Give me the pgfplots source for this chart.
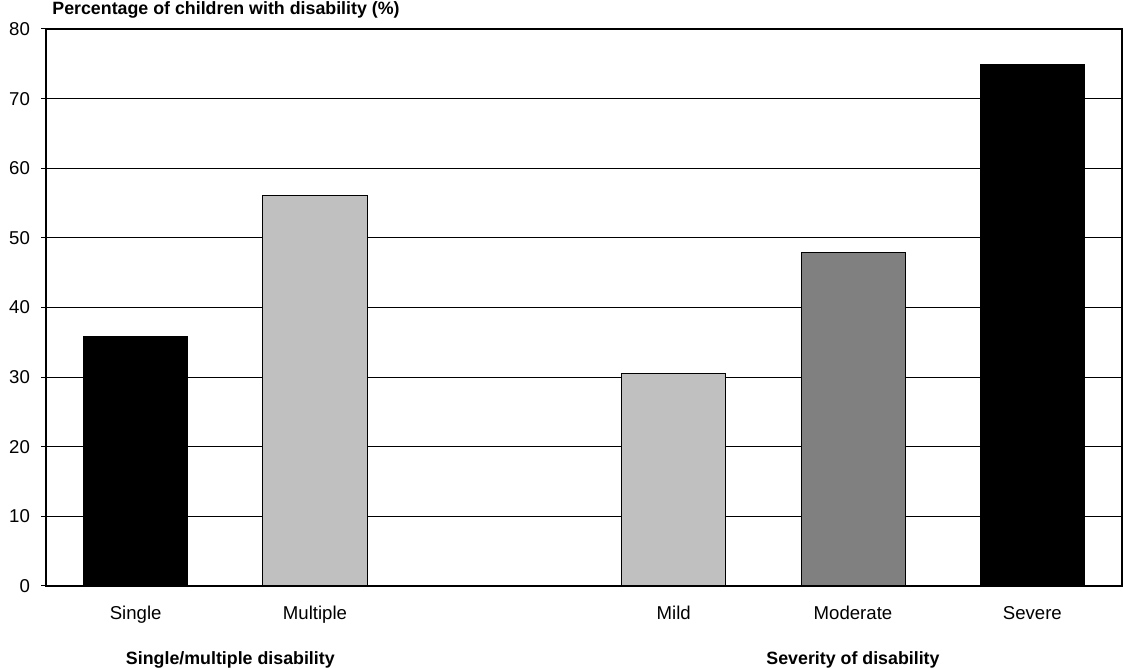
\documentclass[border=0pt]{standalone}
\usepackage{pgfplots}
\pgfplotsset{compat=1.18}
\usepackage{fontspec}
\setmainfont{Liberation Sans}
\definecolor{silverbar}{HTML}{C0C0C0}
\definecolor{graybar}{HTML}{808080}
\begin{document}
\begin{tikzpicture}
\begin{axis}[
  scale only axis,
  width=538pt, height=278.5pt,
  xmin=-0.5, xmax=5.5,
  ymin=0, ymax=80,
  ytick={0,10,...,80},
  xtick={0,1,3,4,5},
  xticklabels={Single,Multiple,Mild,Moderate,Severe},
  x tick style={draw=none},
  y tick style={black, line width=0.5pt},
  ytick pos=left,
  tick align=outside,
  major tick length=2.5pt,
  ymajorgrids,
  grid style={black, line width=0.5pt},
  axis line style={black, line width=0.6pt},
  /pgf/number format/assume math mode=true,
  tick label style={font=\fontsize{9.3}{11}\selectfont},
  xticklabel style={yshift=-3.5pt, text height=7pt, text depth=2pt},
  yticklabel style={xshift=-2pt},
  clip=false,
  ybar, bar width=0.58, bar shift=0pt,
  every axis plot/.append style={draw=black, line width=0.5pt},
]
\addplot[fill=black] coordinates {(0,35.8)};
\addplot[fill=silverbar] coordinates {(1,56.1)};
\addplot[fill=silverbar] coordinates {(3,30.5)};
\addplot[fill=graybar] coordinates {(4,47.9)};
\addplot[fill=black] coordinates {(5,74.9)};
\coordinate (bl) at (rel axis cs:0,0);
\coordinate (tr) at (rel axis cs:1,1);
\node[anchor=west, font=\bfseries\fontsize{8.9}{10}\selectfont, inner sep=0pt] at ([xshift=3pt,yshift=9.5pt]rel axis cs:0,1) {Percentage of children with disability (\%)};
\node[font=\bfseries\fontsize{8.9}{10}\selectfont, inner sep=0pt] at ([xshift=2.5pt,yshift=-37pt]axis cs:0.5,0) {Single/multiple disability};
\node[font=\bfseries\fontsize{8.9}{10}\selectfont, inner sep=0pt] at ([yshift=-37pt]axis cs:4,0) {Severity of disability};
\end{axis}
\pgfresetboundingbox
\path ([xshift=-23pt,yshift=-41pt]bl) rectangle ([xshift=0.5pt,yshift=14.5pt]tr);
\end{tikzpicture}
\end{document}
